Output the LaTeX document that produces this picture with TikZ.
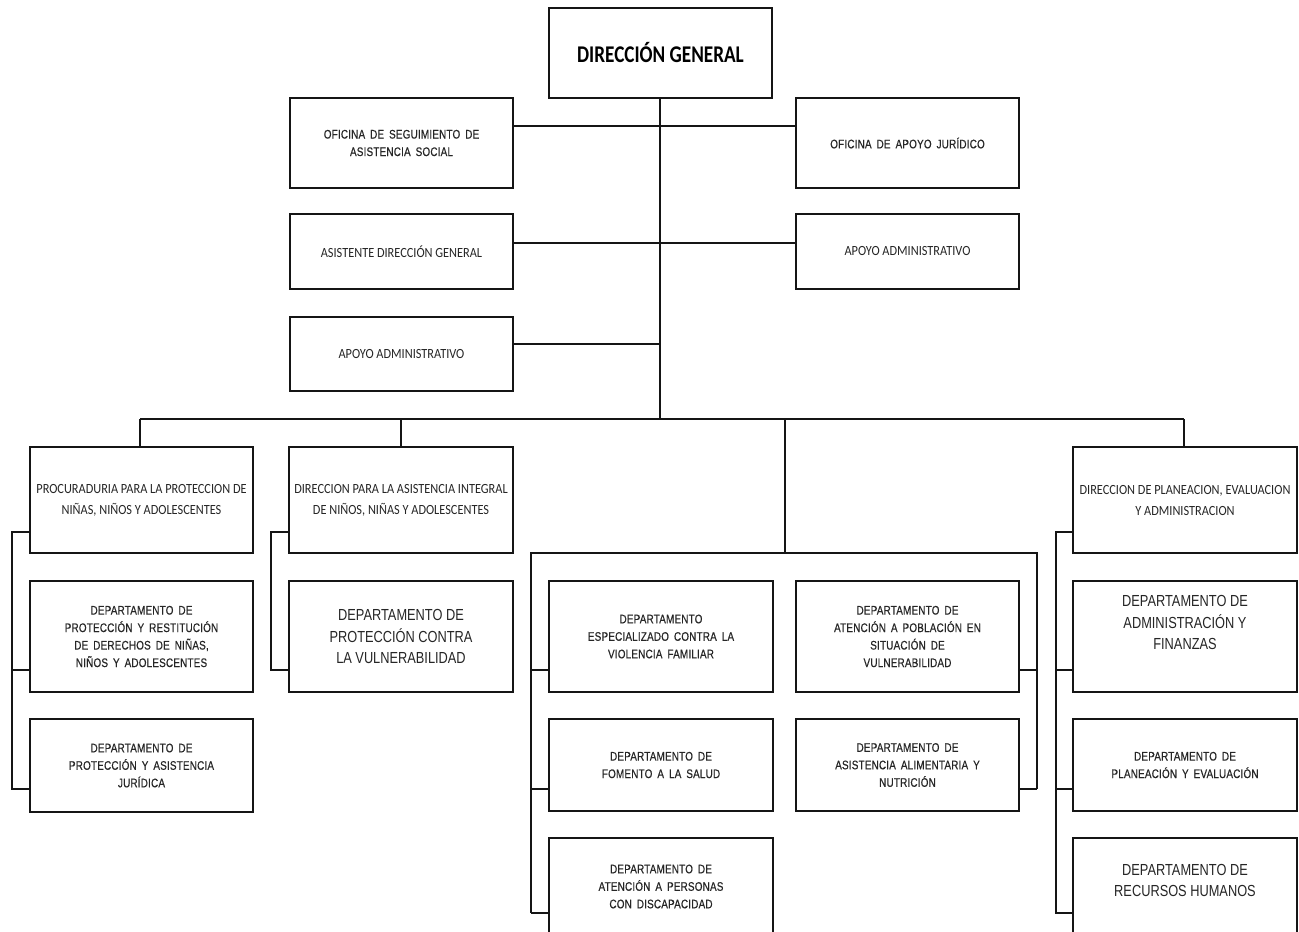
\documentclass[tikz,border=0pt]{standalone}
\usepackage{fontspec}
\newfontfamily\dgfam[FakeStretch=0.8]{Carlito}
\newfontfamily\calfam[FakeStretch=0.88]{Carlito}
\newfontfamily\narfam[FakeStretch=0.8,LetterSpace=1.5,WordSpace=1.7,FakeBold=0.4]{Liberation Sans}
\newfontfamily\bigfam[FakeStretch=0.8]{Liberation Sans}
\newcommand{\dgsty}{\fontsize{24}{28}\dgfam\bfseries}
\newcommand{\calsty}{\fontsize{14}{21}\calfam}
\newcommand{\ofsty}{\fontsize{12.4}{17.5}\narfam}
\newcommand{\smsty}{\fontsize{12.4}{17.5}\narfam}
\newcommand{\bgsty}{\fontsize{16}{21.5}\bigfam}
\definecolor{ink}{HTML}{151515}
\definecolor{txt}{HTML}{262626}
\tikzset{
  box/.style={draw=ink, line width=1.2pt, inner sep=0pt, align=center, text=txt, fill=white},
  wire/.style={draw=ink, line width=1.2pt},
}
\begin{document}
\begin{tikzpicture}[x=1pt,y=-1pt]
\fill[white] (0,0) rectangle (1299,932);
\useasboundingbox (0,0) rectangle (1299,932);

% level coordinates
\coordinate (yA) at (0,126);
\coordinate (yB) at (0,243);
\coordinate (yC) at (0,344);
\coordinate (bus) at (660,419);
\coordinate (busL) at (140,419);
\coordinate (busR) at (1184,419);
\coordinate (busM) at (785,419);
\coordinate (yP) at (0,532);
\coordinate (y1) at (0,670);
\coordinate (y2) at (0,789);
\coordinate (y3) at (0,913);
\coordinate (bbL) at (531,553);
\coordinate (bbR) at (1037,553);
\coordinate (bbM) at (785,553);
\coordinate (brL) at (12,0);
\coordinate (brD) at (271,0);
\coordinate (brR) at (1056,0);

% wires (drawn first, boxes on top)
\draw[wire] (660,98) -- (bus);
\draw[wire] (busL) -- (busR);
\draw[wire] (busM) -- (bbM);
\draw[wire] (bbL |- y3) -- (bbL) -- (bbR) -- (bbR |- y2);

% boxes
\node[box, minimum width=223, minimum height=90, font=\dgsty, text=black] (dg) at (660.5,53) {DIRECCIÓN GENERAL};
\node[box, minimum width=223, minimum height=90, font=\ofsty] (ofseg) at (401.5,143) {OFICINA DE SEGUIMIENTO DE\\ASISTENCIA SOCIAL};
\node[box, minimum width=223, minimum height=90, font=\ofsty] (ofjur) at (907.5,143) {OFICINA DE APOYO JURÍDICO};
\node[box, minimum width=223, minimum height=75, font=\calsty] (asis) at (401.5,251.5) {ASISTENTE DIRECCIÓN GENERAL};
\node[box, minimum width=223, minimum height=75, font=\calsty] (apoyoR) at (907.5,251.5) {APOYO ADMINISTRATIVO};
\node[box, minimum width=223, minimum height=74, font=\calsty] (apoyoL) at (401.5,354) {APOYO ADMINISTRATIVO};

\node[box, minimum width=223, minimum height=106, font=\calsty] (proc) at (141.5,500) {PROCURADURIA PARA LA PROTECCION DE\\NIÑAS, NIÑOS Y ADOLESCENTES};
\node[box, minimum width=224, minimum height=106, font=\calsty] (dpa) at (401,500) {DIRECCION PARA LA ASISTENCIA INTEGRAL\\DE NIÑOS, NIÑAS Y ADOLESCENTES};
\node[box, minimum width=224, minimum height=106, font=\calsty] (dirpl) at (1185,500) {DIRECCION DE PLANEACION, EVALUACION\\Y ADMINISTRACION};

\node[box, minimum width=223, minimum height=111, font=\smsty] (restit) at (141.5,636.5) {DEPARTAMENTO DE\\PROTECCIÓN Y RESTITUCIÓN\\DE DERECHOS DE NIÑAS,\\NIÑOS Y ADOLESCENTES};
\node[box, minimum width=224, minimum height=111, font=\bgsty] (vuln) at (401,636.5) {DEPARTAMENTO DE\\PROTECCIÓN CONTRA\\LA VULNERABILIDAD};
\node[box, minimum width=224, minimum height=111, font=\smsty] (viol) at (661,636.5) {DEPARTAMENTO\\ESPECIALIZADO CONTRA LA\\VIOLENCIA FAMILIAR};
\node[box, minimum width=223, minimum height=111, font=\smsty] (pobl) at (907.5,636.5) {DEPARTAMENTO DE\\ATENCIÓN A POBLACIÓN EN\\SITUACIÓN DE\\VULNERABILIDAD};
\node[box, minimum width=224, minimum height=111, font=\bgsty] (finz) at (1185,636.5) {DEPARTAMENTO DE\\ADMINISTRACIÓN Y\\FINANZAS\rule[-28pt]{0pt}{28pt}};

\node[box, minimum width=223, minimum height=93, font=\smsty] (jurid) at (141.5,765.5) {DEPARTAMENTO DE\\PROTECCIÓN Y ASISTENCIA\\JURÍDICA};
\node[box, minimum width=224, minimum height=92, font=\smsty] (salud) at (661,765) {DEPARTAMENTO DE\\FOMENTO A LA SALUD};
\node[box, minimum width=223, minimum height=92, font=\smsty] (alim) at (907.5,765) {DEPARTAMENTO DE\\ASISTENCIA ALIMENTARIA Y\\NUTRICIÓN};
\node[box, minimum width=224, minimum height=92, font=\smsty] (plan) at (1185,765) {DEPARTAMENTO DE\\PLANEACIÓN Y EVALUACIÓN};

\node[box, minimum width=224, minimum height=97, font=\smsty] (disc) at (661,886.5) {DEPARTAMENTO DE\\ATENCIÓN A PERSONAS\\CON DISCAPACIDAD};
\node[box, minimum width=224, minimum height=97, font=\bgsty] (rrhh) at (1185,886.5) {DEPARTAMENTO DE\\RECURSOS HUMANOS\rule[-12pt]{0pt}{12pt}};

% connectors between named nodes
\draw[wire] (ofseg.east |- yA) -- (ofjur.west |- yA);
\draw[wire] (asis.east |- yB) -- (apoyoR.west |- yB);
\draw[wire] (apoyoL.east |- yC) -- (bus |- yC);
\draw[wire] (busL) -- (proc.north -| busL);
\draw[wire] (dpa.north |- bus) -- (dpa.north);
\draw[wire] (busR) -- (dirpl.north -| busR);

% left bracket (procuraduria)
\draw[wire] (proc.west |- yP) -- (brL |- yP) -- (brL |- y2) -- (jurid.west |- y2);
\draw[wire] (brL |- y1) -- (restit.west |- y1);
% bracket of direccion para la asistencia
\draw[wire] (dpa.west |- yP) -- (brD |- yP) -- (brD |- y1) -- (vuln.west |- y1);
% middle group
\draw[wire] (bbL |- y1) -- (viol.west |- y1);
\draw[wire] (bbL |- y2) -- (salud.west |- y2);
\draw[wire] (bbL |- y3) -- (disc.west |- y3);
\draw[wire] (bbR |- y1) -- (pobl.east |- y1);
\draw[wire] (bbR |- y2) -- (alim.east |- y2);
% right bracket (planeacion)
\draw[wire] (dirpl.west |- yP) -- (brR |- yP) -- (brR |- y3) -- (rrhh.west |- y3);
\draw[wire] (brR |- y1) -- (finz.west |- y1);
\draw[wire] (brR |- y2) -- (plan.west |- y2);
\end{tikzpicture}
\end{document}
